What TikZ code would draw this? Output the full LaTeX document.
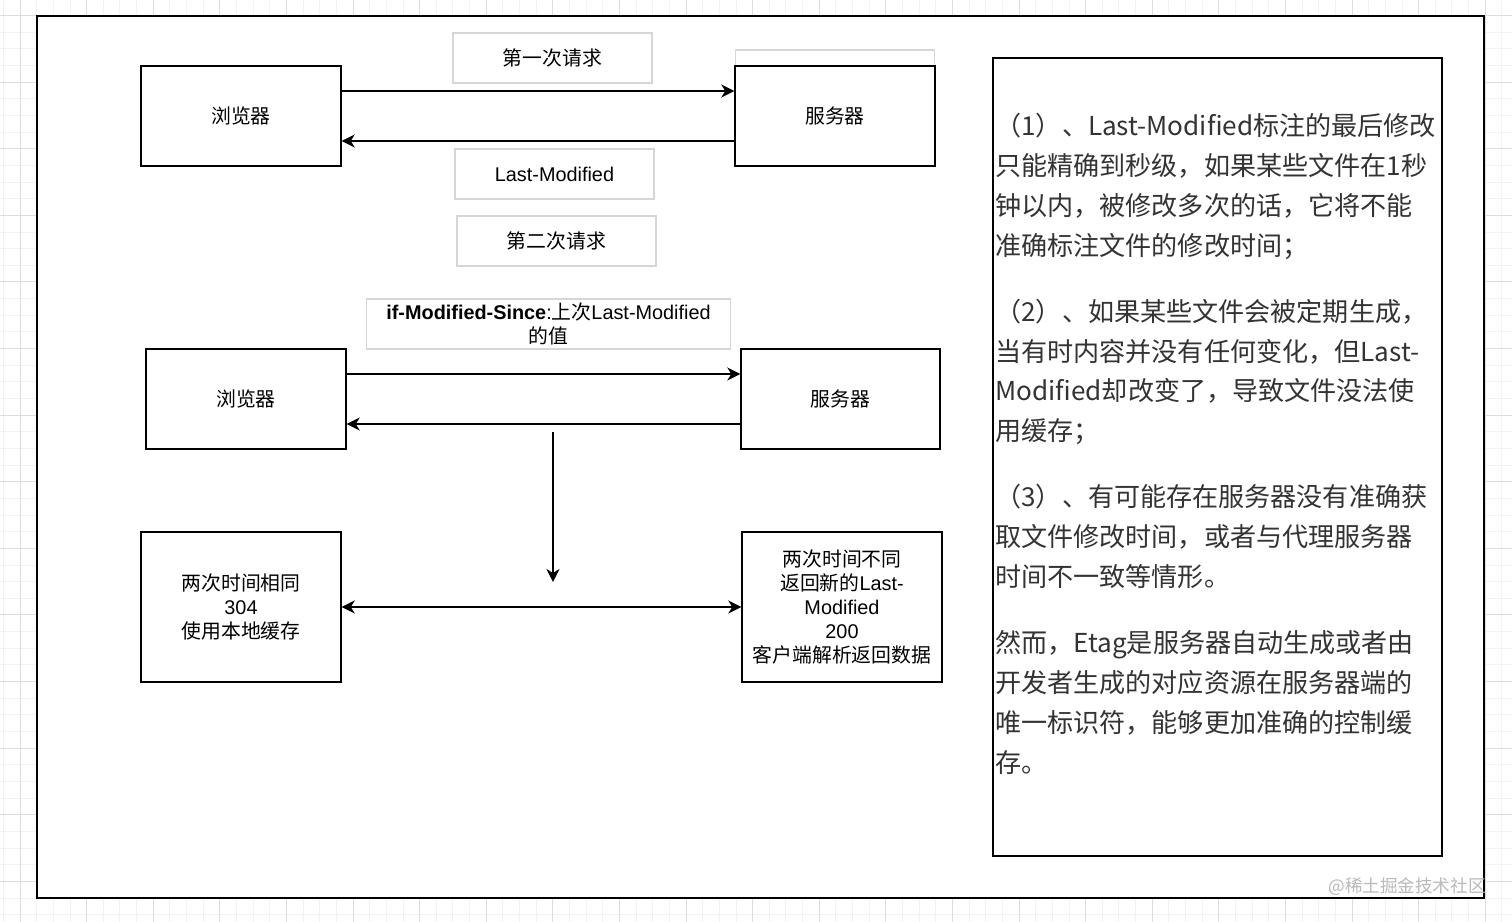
\documentclass[tikz,border=0pt]{standalone}
\usepackage{fontspec}
\usetikzlibrary{arrows.meta}
\setmainfont{Liberation Sans}
\newfontfamily\cjk{Noto Sans CJK SC}
\newcommand{\zh}[1]{{\cjk #1}}
\definecolor{gridminor}{HTML}{F2F2F2}
\definecolor{gridmajor}{HTML}{DDDDDD}
\definecolor{lblgray}{HTML}{D6D6D6}
\definecolor{notegray}{HTML}{333333}

\begin{document}
\begin{tikzpicture}[x=0.02cm,y=-0.02cm,
    box/.style={draw,fill=white,line width=0.85pt,minimum width=4cm,minimum height=2cm,inner sep=0pt,align=center,font=\fontsize{11.3}{13.6}\selectfont},
    lbl/.style={draw=lblgray,fill=white,line width=0.6pt,minimum width=3.98cm,minimum height=1cm,inner sep=0pt,align=center,font=\fontsize{11.3}{13.6}\selectfont},
    arr/.style={line width=0.85pt,-{Stealth[length=0.26cm,width=0.26cm,inset=0.08cm]}},
    darr/.style={line width=0.85pt,{Stealth[length=0.26cm,width=0.26cm,inset=0.08cm]}-{Stealth[length=0.26cm,width=0.26cm,inset=0.08cm]}}]
      \useasboundingbox (0,0) rectangle (1512,922);
      \fill[white] (0,0) rectangle (1512,922);
      % background grid
      \foreach \k in {0,...,90} \draw[gridminor,line width=0.5pt] (3.35+16.65*\k,0) -- (3.35+16.65*\k,922);
      \foreach \k in {-1,...,54} \draw[gridminor,line width=0.5pt] (0,15.5+16.65*\k) -- (1512,15.5+16.65*\k);
      \foreach \k in {0,...,22} \draw[gridmajor,line width=0.5pt] (20+66.6*\k,0) -- (20+66.6*\k,922);
      \foreach \k in {0,...,13} \draw[gridmajor,line width=0.5pt] (0,15.5+66.6*\k) -- (1512,15.5+66.6*\k);
      % outer frame
      \node [draw,fill=white,line width=1.1pt,minimum width=28.94cm,minimum height=17.64cm] (frame) at (760.5,457) {};
      % first request
      \node [lbl] (s1top) at (835,75) {};
      \node [box] (b1) at (241,116) {\zh{浏览器}};
      \node [box] (s1) at (835,116) {\zh{服务器}};
      \node [lbl] (req1) at (552.5,58) {\zh{第一次请求}};
      \node [lbl] (lastmod) at (554.5,174) {Last-Modified};
      \draw [arr] ([yshift=0.5cm]b1.east) -- ([yshift=0.5cm]s1.west);
      \draw [arr] ([yshift=-0.5cm]s1.west) -- ([yshift=-0.5cm]b1.east);
      % second request
      \node [lbl] (req2) at (556.5,241) {\zh{第二次请求}};
      \node [lbl,minimum width=7.3cm] (ims) at (548.5,324) {\textbf{if-Modified-Since}:\zh{上次}Last-Modified\\\zh{的值}};
      \node [box] (b2) at (246,399) {\zh{浏览器}};
      \node [box,minimum width=3.98cm] (s2) at (840.5,399) {\zh{服务器}};
      \draw [arr] ([yshift=0.5cm]b2.east) -- ([yshift=0.5cm]s2.west);
      \draw [arr] ([yshift=-0.5cm]s2.west) -- ([yshift=-0.5cm]b2.east);
      % results
      \coordinate (vtop) at (553,432);
      \coordinate (vbot) at (553,582);
      \draw [arr] (vtop) -- (vbot);
      \node [box,minimum height=3cm] (same) at (241,607) {\zh{两次时间相同}\\304\\\zh{使用本地缓存}};
      \node [box,minimum height=3cm] (diff) at (842,607) {\zh{两次时间不同}\\\zh{返回新的}Last-\\Modified\\200\\\zh{客户端解析返回数据}};
      \draw [darr] (same.east) -- (diff.west);
      % notes on the right
      \node [draw,line width=0.85pt,minimum width=8.98cm,minimum height=15.96cm] (note) at (1217.5,457) {};
      \node [anchor=north west,inner sep=0pt,align=left,text=notegray,font=\cjk\fontsize{14.85}{22.7}\selectfont] (notetxt) at (995,113) {%
        （1）、Last-Modified标注的最后修改\\
        只能精确到秒级，如果某些文件在1秒\\
        钟以内，被修改多次的话，它将不能\\
        准确标注文件的修改时间；\\[0.52cm]
        （2）、如果某些文件会被定期生成，\\
        当有时内容并没有任何变化，但Last-\\
        Modified却改变了，导致文件没法使\\
        用缓存；\\[0.52cm]
        （3）、有可能存在服务器没有准确获\\
        取文件修改时间，或者与代理服务器\\
        时间不一致等情形。\\[0.52cm]
        然而，Etag是服务器自动生成或者由\\
        开发者生成的对应资源在服务器端的\\
        唯一标识符，能够更加准确的控制缓\\
        存。};
      \node [text=gray!55,font=\cjk\fontsize{10}{12}\selectfont,inner sep=0pt] (mark) at (1407,887) {@稀土掘金技术社区};
    \end{tikzpicture}
\end{document}
